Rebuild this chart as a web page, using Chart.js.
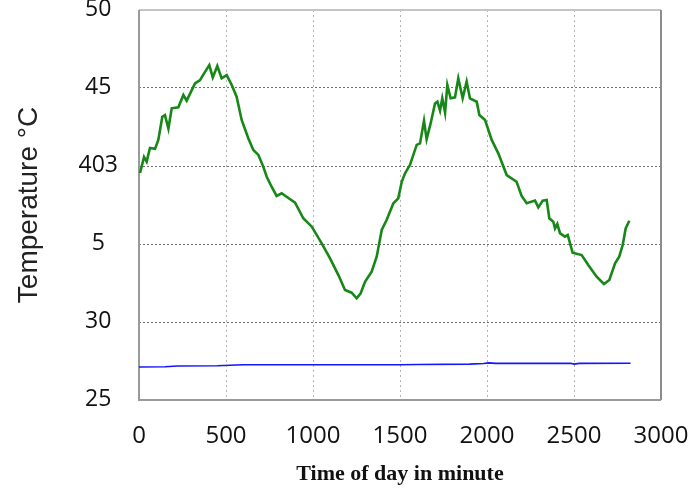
<!DOCTYPE html>
<html>
<head>
<meta charset="utf-8">
<script src="https://cdn.jsdelivr.net/npm/chart.js@4/dist/chart.umd.min.js"></script>
<style>
  body { margin: 0; background: #fff; }
  #wrap { width: 690px; height: 489px; }
</style>
</head>
<body>
<div id="wrap"><canvas id="tempChart" width="690" height="489"></canvas></div>
<script>
// green curve: time (min) / temperature
const airMinutes = [6, 29, 44, 63, 92, 111, 134, 149, 169, 188, 226, 255, 274, 322, 351, 374, 404, 424, 450, 475,
  504, 533, 561, 590, 628, 657, 686, 714, 734, 762, 791, 820, 848, 897, 944, 993, 1050, 1098, 1146, 1184,
  1222, 1251, 1274, 1299, 1337, 1366, 1395, 1423, 1462, 1490, 1510, 1529, 1557, 1596, 1615, 1638, 1653, 1676, 1701, 1715,
  1730, 1743, 1759, 1772, 1791, 1816, 1835, 1860, 1883, 1902, 1941, 1956, 1989, 2027, 2065, 2113, 2170, 2199, 2228, 2276,
  2295, 2320, 2343, 2358, 2381, 2391, 2404, 2420, 2448, 2464, 2492, 2544, 2582, 2630, 2672, 2703, 2736, 2760, 2780, 2797, 2818];
const airTemp = [39.55, 40.58, 40.28, 41.15, 41.1, 41.67, 43.16, 43.27, 42.4, 43.7, 43.76, 44.55, 44.19, 45.3, 45.51, 45.94, 46.47, 45.68, 46.41, 45.62,
  45.83, 45.19, 44.44, 42.95, 41.78, 41.03, 40.71, 39.96, 39.31, 38.67, 38.08, 38.25, 38.03, 37.65, 36.65, 36.11, 35.04, 34.08, 33.01, 32.05,
  31.88, 31.52, 31.84, 32.58, 33.22, 34.19, 35.9, 36.54, 37.61, 37.93, 38.99, 39.53, 40.06, 41.35, 41.45, 42.9, 41.71, 42.73, 44.0, 44.12,
  43.55, 44.34, 43.42, 45.19, 44.34, 44.4, 45.62, 44.34, 45.41, 44.34, 44.12, 43.27, 42.95, 41.67, 40.81, 39.42, 38.99, 38.08, 37.61, 37.78,
  37.35, 37.78, 37.82, 36.65, 36.43, 36.0, 36.28, 35.68, 35.47, 35.58, 34.44, 34.29, 33.65, 32.9, 32.44, 32.69, 33.76, 34.19, 34.94, 36.0, 36.49];

// blue curve
const waterMinutes = [0, 150, 220, 450, 600, 1500, 1600, 1900, 1980, 2010, 2050, 2480, 2500, 2530, 2825];
const waterTemp = [27.12, 27.13, 27.18, 27.2, 27.26, 27.26, 27.28, 27.3, 27.34, 27.38, 27.35, 27.35, 27.3, 27.35, 27.36];

const xTickValues = [0, 500, 1000, 1500, 2000, 2500, 3000];
const yTickValues = [25, 30, 35, 40, 45, 50];
const yTickLabels = ['25', '30', '5', '403', '45', '50'];

const toPoints = (xs, ys) => xs.map((x, i) => ({ x: x, y: ys[i] }));

// grey frame round the plot area
const framePlugin = {
  id: 'frame',
  beforeDatasetsDraw(chart) {
    const { ctx, chartArea: a } = chart;
    ctx.save();
    ctx.lineWidth = 2;
    ctx.strokeStyle = '#c4c4c4';
    ctx.beginPath(); ctx.moveTo(a.left, a.top); ctx.lineTo(a.right, a.top); ctx.stroke();
    ctx.strokeStyle = '#8c8c8c';
    ctx.beginPath(); ctx.moveTo(a.right, a.top); ctx.lineTo(a.right, a.bottom); ctx.stroke();
    ctx.strokeStyle = '#9a9a9a';
    ctx.beginPath(); ctx.moveTo(a.left, a.top); ctx.lineTo(a.left, a.bottom); ctx.lineTo(a.right, a.bottom); ctx.stroke();
    ctx.restore();
  }
};

new Chart(document.getElementById('tempChart'), {
  type: 'scatter',
  data: {
    datasets: [
      {
        data: toPoints(airMinutes, airTemp),
        showLine: true,
        borderColor: '#178717',
        borderWidth: 2.6,
        pointRadius: 0,
        tension: 0
      },
      {
        data: toPoints(waterMinutes, waterTemp),
        showLine: true,
        borderColor: '#1515ff',
        borderWidth: 1.6,
        pointRadius: 0,
        tension: 0
      }
    ]
  },
  options: {
    responsive: false,
    animation: false,
    layout: { padding: { top: 10, right: 29, left: 0, bottom: 0 } },
    plugins: { legend: { display: false }, tooltip: { enabled: false } },
    scales: {
      x: {
        type: 'linear',
        min: 0,
        max: 3000,
        afterBuildTicks: (s) => { s.ticks = xTickValues.map(v => ({ value: v })); },
        afterFit: (s) => { s.height = 89; s.paddingLeft = 0; s.paddingRight = 0; },
        grid: { color: '#b4b4b4', lineWidth: 1, drawTicks: false },
        border: { display: false, dash: [2, 3] },
        ticks: {
          padding: 22,
          maxRotation: 0,
          color: '#111',
          font: { family: 'Open Sans', size: 24 },
          callback: (v) => String(v)
        },
        title: {
          display: true,
          text: 'Time of day in minute',
          color: '#111',
          font: { family: 'Liberation Serif', size: 22, weight: 'bold' },
          padding: { top: 0, bottom: 1 }
        }
      },
      y: {
        min: 25,
        max: 50,
        afterBuildTicks: (s) => { s.ticks = yTickValues.map(v => ({ value: v })); },
        afterFit: (s) => { s.width = 139; s.paddingTop = 0; s.paddingBottom = 0; },
        grid: { color: '#6e6e6e', lineWidth: 1, drawTicks: false },
        border: { display: false, dash: [2, 2] },
        ticks: {
          padding: 21,
          crossAlign: 'center',
          labelOffset: -1,
          color: '#111',
          font: { family: 'Open Sans', size: 23 },
          callback: (v) => yTickLabels[yTickValues.indexOf(v)]
        },
        title: {
          display: true,
          text: 'Temperature °C',
          color: '#222',
          font: { family: 'Liberation Sans', size: 28 },
          padding: { top: 12, bottom: 0 }
        }
      }
    }
  },
  plugins: [framePlugin]
});
</script>
</body>
</html>
